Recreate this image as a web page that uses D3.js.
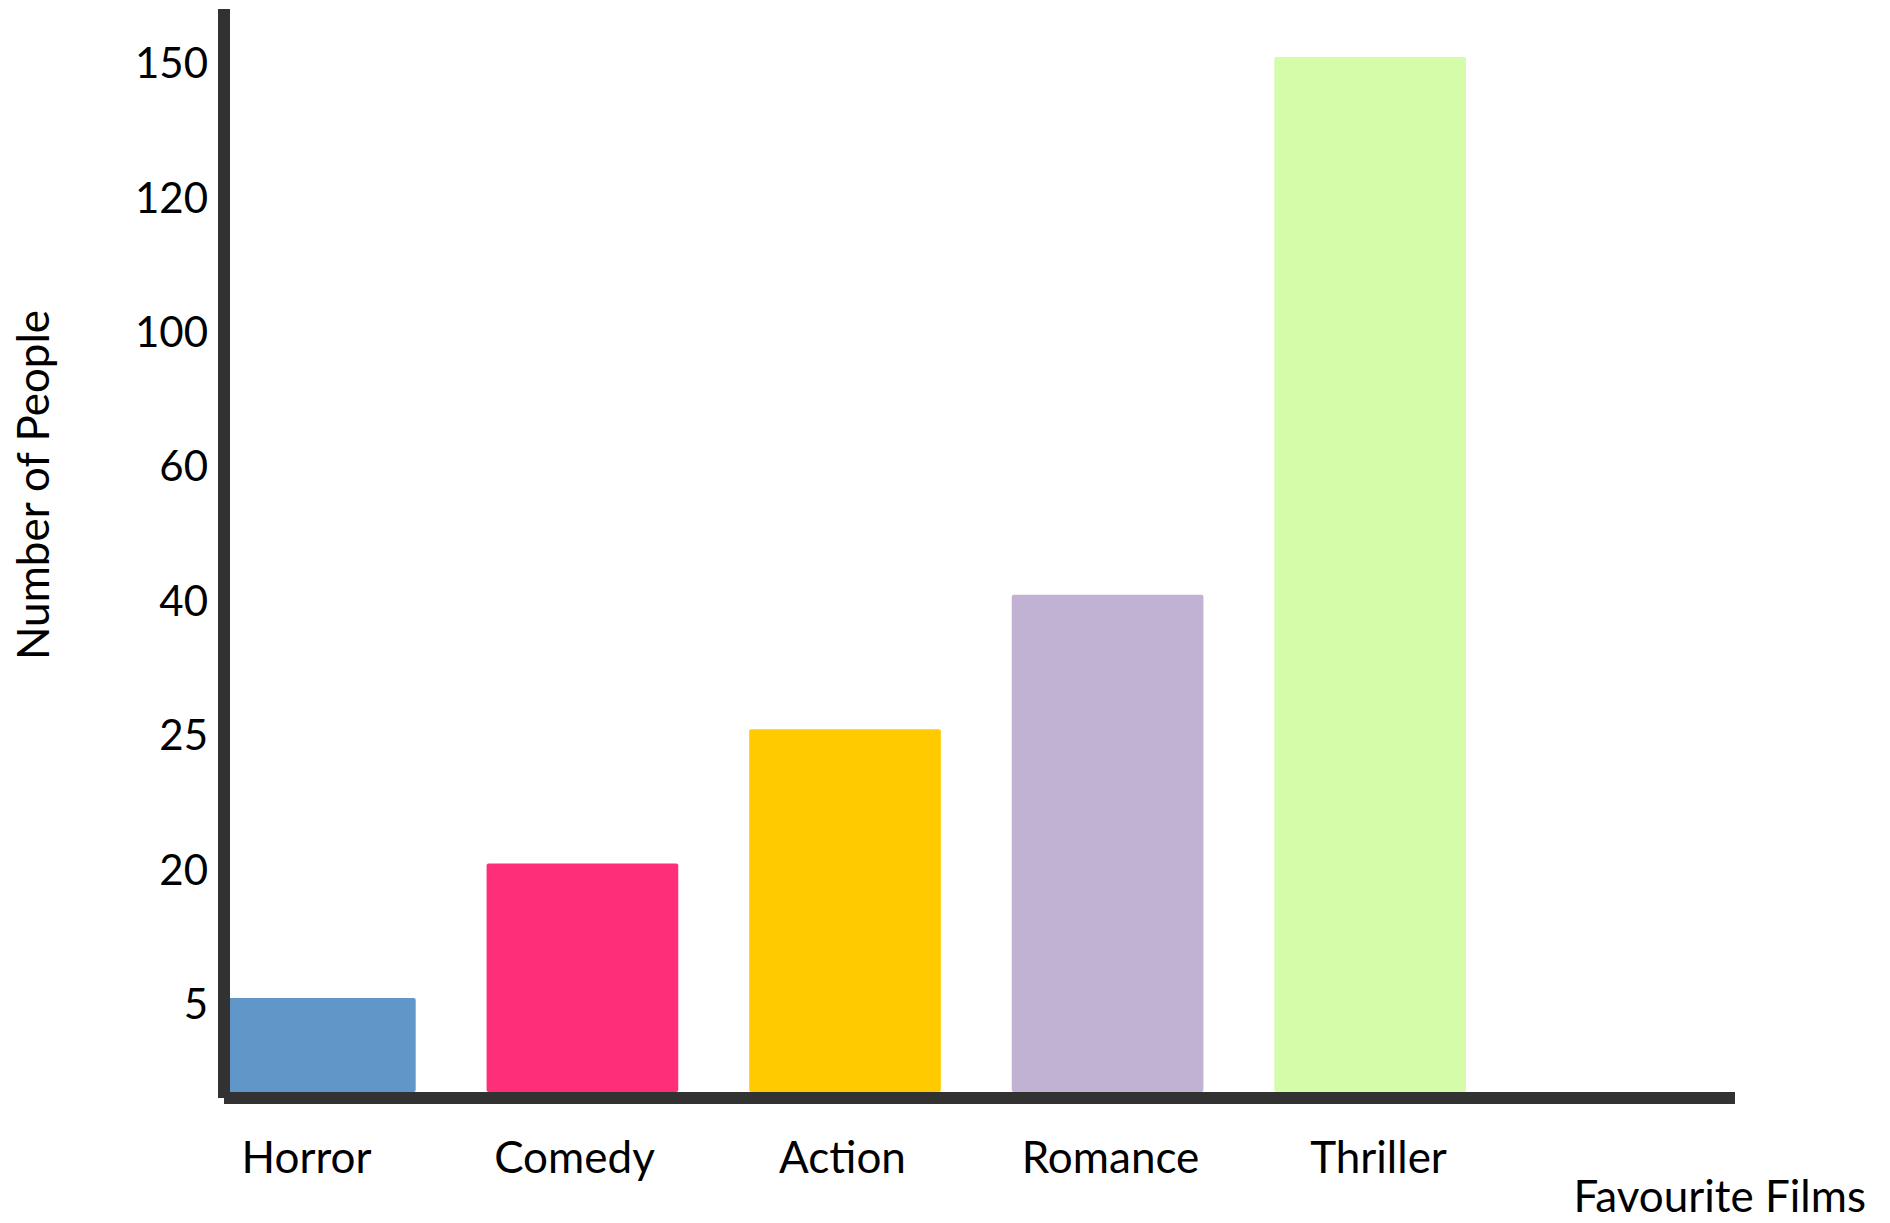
<!DOCTYPE html>
<html>
<head>
<meta charset="utf-8">
<script src="https://cdn.jsdelivr.net/npm/d3@7"></script>
<style>
  html, body { margin: 0; padding: 0; background: #ffffff; }
  svg { display: block; }
  text { font-family: Lato, "Open Sans", sans-serif; fill: #000; }
</style>
</head>
<body>
<svg id="chart" width="1890" height="1223"></svg>
<script>
// ---- data ----
const categories = ["Horror", "Comedy", "Action", "Romance", "Thriller"];
const values = [5, 20, 25, 40, 150];
const colors = ["#6196c8", "#ff2e79", "#ffca00", "#c1b2d3", "#d5fca8"];
const yTickLabels = ["5", "20", "25", "40", "60", "100", "120", "150"];
const xTitle = "Favourite Films";
const yTitle = "Number of People";

// ---- layout ----
const svg = d3.select("#chart");
const baseY = 1092;
const axisColor = "#323232";

const x = d3.scaleBand()
  .domain(categories)
  .range([224, 1466])
  .paddingInner(0.27)
  .paddingOuter(0);

// category labels sit on their own, slightly wider-spaced positions
const xLabel = d3.scalePoint()
  .domain(categories)
  .range([306, 1378]);

// the value axis is categorical: equally spaced labels
const y = d3.scalePoint()
  .domain(yTickLabels)
  .range([998, 57]);

// bars
svg.append("g").selectAll("rect")
  .data(categories)
  .join("rect")
  .attr("x", d => x(d))
  .attr("width", x.bandwidth())
  .attr("y", (d, i) => y(String(values[i])))
  .attr("height", (d, i) => baseY - y(String(values[i])))
  .attr("rx", 2)
  .attr("fill", (d, i) => colors[i]);

// axis lines
svg.append("line")
  .attr("x1", 224).attr("x2", 224)
  .attr("y1", 9).attr("y2", 1098)
  .attr("stroke", axisColor).attr("stroke-width", 12);
svg.append("line")
  .attr("x1", 224).attr("x2", 1735)
  .attr("y1", 1098).attr("y2", 1098)
  .attr("stroke", axisColor).attr("stroke-width", 12);

// y tick labels
const yAxis = svg.append("g")
  .attr("transform", "translate(208,0)")
  .call(d3.axisLeft(y).tickSize(0).tickPadding(0));
yAxis.select(".domain").remove();
yAxis.selectAll("text")
  .attr("dy", "0.35em")
  .attr("y", 6)
  .style("font-family", "Lato, 'Open Sans', sans-serif")
  .style("font-size", "42px")
  .attr("fill", "#000");

// x category labels
const xAxis = svg.append("g")
  .attr("transform", "translate(0,1158)")
  .call(d3.axisBottom(xLabel).tickSize(0).tickPadding(0));
xAxis.select(".domain").remove();
xAxis.selectAll("text")
  .attr("dy", "0.35em")
  .attr("y", 0)
  .style("font-family", "Lato, 'Open Sans', sans-serif")
  .style("font-size", "44px")
  .attr("fill", "#000");

// axis titles
svg.append("text")
  .attr("x", 1866).attr("y", 1197)
  .attr("dy", "0.35em")
  .attr("text-anchor", "end")
  .style("font-size", "44px")
  .text(xTitle);

svg.append("text")
  .attr("transform", "translate(34,485) rotate(-90)")
  .attr("dy", "0.35em")
  .attr("text-anchor", "middle")
  .style("font-size", "44px")
  .text(yTitle);
</script>
</body>
</html>
